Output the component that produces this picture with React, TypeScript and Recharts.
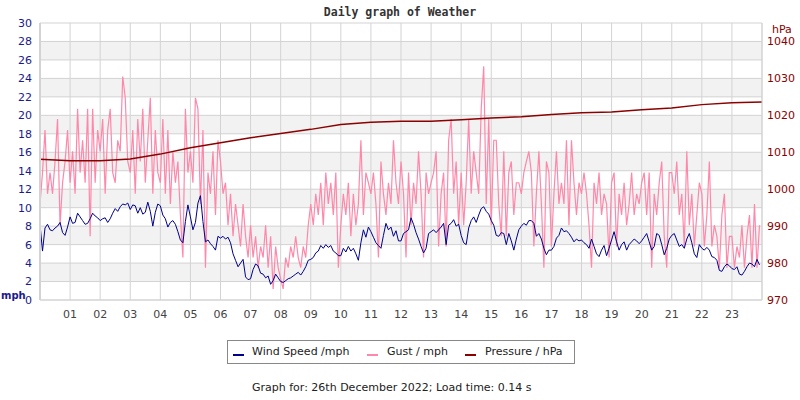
import { ComposedChart, Line, XAxis, YAxis, CartesianGrid } from "recharts";

// Hour ticks along the bottom (00:00 and 24:00 are the plot edges)
const hourTicks = [1, 2, 3, 4, 5, 6, 7, 8, 9, 10, 11, 12, 13, 14, 15, 16, 17, 18, 19, 20, 21, 22, 23];
const mphTicks = [0, 2, 4, 6, 8, 10, 12, 14, 16, 18, 20, 22, 24, 26, 28, 30];
const hpaTicks = [970, 980, 990, 1000, 1010, 1020, 1030, 1040];

// 5-minute samples, one row per hour (mph)
const windSpeed = [
  8.2, 5.3, 7.8, 8.2, 7.6, 7.5, 7.8, 8.0, 8.4, 7.3, 7.0, 7.9,
  9.0, 8.3, 8.4, 9.4, 9.0, 8.6, 8.2, 8.3, 8.8, 9.4, 9.1, 8.9,
  8.6, 8.8, 8.9, 8.4, 8.8, 9.4, 9.9, 9.6, 10.1, 10.4, 10.3, 10.5,
  9.8, 10.3, 10.2, 9.4, 10.0, 9.3, 9.5, 10.6, 9.6, 8.0, 9.5, 10.4,
  10.2, 9.2, 8.8, 7.9, 8.4, 8.6, 8.2, 7.4, 6.5, 6.2, 8.5, 10.3,
  9.0, 7.6, 8.4, 10.5, 11.3, 8.5, 6.3, 6.5, 6.1, 5.8, 5.4, 6.9,
  6.7, 6.9, 6.6, 6.8, 6.2, 5.0, 4.3, 3.6, 4.0, 4.4, 2.5, 2.2,
  2.3, 3.3, 3.9, 3.7, 2.9, 2.8, 2.4, 2.6, 1.7, 2.1, 2.8, 2.4,
  2.0, 1.9, 2.1, 2.3, 2.4, 2.6, 2.8, 3.0, 2.7, 3.1, 3.6, 4.3,
  4.4, 4.6, 5.1, 5.3, 5.9, 5.6, 6.0, 5.7, 5.9, 5.3, 5.1, 4.8,
  4.8, 5.6, 5.2, 5.8, 5.3, 5.6, 5.0, 4.3, 6.2, 7.6, 6.8, 7.9,
  7.4, 6.8, 6.2, 5.9, 5.6, 7.0, 8.3, 7.6, 7.9, 6.9, 7.5, 6.4,
  6.4, 7.2, 7.4, 7.6, 8.9, 8.2, 7.3, 6.6, 5.8, 5.1, 5.6, 7.2,
  7.4, 7.6, 7.3, 7.6, 7.9, 8.3, 6.0, 8.1, 8.3, 8.7, 8.0, 8.2,
  7.0, 6.2, 6.0, 7.8, 8.6, 9.0, 8.4, 9.2, 9.9, 10.1, 9.6, 9.3,
  8.6, 8.1, 7.0, 6.9, 7.3, 7.2, 6.0, 7.2, 6.4, 5.4, 6.6, 7.6,
  8.0, 8.3, 8.1, 8.6, 8.6, 8.3, 6.9, 7.2, 6.6, 5.6, 4.9, 5.4,
  5.4, 5.8, 6.7, 7.0, 7.8, 7.4, 7.5, 7.2, 6.8, 6.3, 6.6, 6.4,
  6.5, 6.2, 6.0, 5.6, 6.6, 5.8, 5.0, 4.7, 5.4, 5.9, 4.8, 5.6,
  6.5, 7.4, 6.3, 5.4, 6.0, 6.3, 5.4, 6.0, 6.3, 6.6, 6.4, 6.1,
  6.4, 6.8, 7.2, 6.3, 5.4, 5.8, 7.2, 7.0, 6.0, 4.9, 5.6, 6.6,
  7.0, 7.2, 6.5, 5.8, 6.0, 5.6, 6.6, 7.2, 6.2, 5.0, 4.6, 6.0,
  5.6, 5.4, 5.7, 5.4, 4.7, 4.6, 4.3, 3.2, 3.1, 3.6, 3.9, 3.7,
  3.4, 3.3, 3.6, 2.8, 2.7, 3.1, 3.6, 4.0, 3.9, 3.6, 4.4, 3.8,
];

const gust = [
  10.4, 13.8, 18.4, 11.5, 13.8, 11.5, 15.0, 19.6, 8.1, 12.7, 15.0, 18.4,
  12.7, 16.1, 11.5, 20.7, 13.8, 17.3, 12.7, 20.7, 6.9, 20.7, 12.7, 18.4,
  16.1, 19.6, 11.5, 18.4, 20.7, 13.8, 12.7, 17.3, 16.1, 24.2, 21.9, 15.0,
  13.8, 18.4, 11.5, 19.6, 15.0, 20.7, 12.7, 17.3, 21.9, 11.5, 18.4, 13.8,
  12.7, 19.6, 11.5, 18.4, 10.4, 16.1, 12.7, 15.0, 9.2, 4.6, 20.7, 13.8,
  16.1, 12.7, 21.9, 20.7, 10.4, 18.4, 3.5, 13.8, 11.5, 16.1, 9.2, 17.3,
  15.0, 11.5, 12.7, 8.1, 11.5, 6.9, 10.4, 8.1, 5.8, 10.4, 6.9, 4.6,
  8.1, 4.6, 6.9, 3.5, 5.8, 4.6, 8.1, 3.5, 6.9, 1.2, 5.8, 3.5,
  2.3, 1.2, 4.6, 3.5, 5.8, 4.6, 6.9, 4.6, 3.5, 5.8, 4.6, 8.1,
  10.4, 8.1, 11.5, 9.2, 12.7, 8.1, 13.8, 10.4, 12.7, 9.2, 13.8, 3.5,
  8.1, 11.5, 9.2, 12.7, 6.9, 11.5, 8.1, 10.4, 17.3, 9.2, 13.8, 12.7,
  11.5, 13.8, 10.4, 4.6, 15.0, 11.5, 9.2, 12.7, 10.4, 17.3, 12.7, 10.4,
  15.0, 11.5, 4.6, 13.8, 8.1, 12.7, 10.4, 16.1, 11.5, 4.6, 13.8, 11.5,
  12.7, 13.8, 16.1, 5.8, 11.5, 13.8, 5.8, 17.3, 19.6, 11.5, 15.0, 8.1,
  13.8, 8.1, 12.7, 19.6, 11.5, 16.1, 13.8, 11.5, 20.7, 25.3, 10.4, 19.6,
  8.1, 17.3, 17.3, 10.4, 6.9, 16.1, 6.9, 13.8, 15.0, 9.2, 12.7, 12.7,
  11.5, 13.8, 15.0, 16.1, 13.8, 5.8, 11.5, 16.1, 10.4, 3.5, 15.0, 13.8,
  5.8, 11.5, 16.1, 10.4, 12.7, 10.4, 17.3, 8.1, 17.3, 12.7, 9.2, 12.7,
  11.5, 13.8, 11.5, 8.1, 3.5, 12.7, 10.4, 13.8, 9.2, 11.5, 10.4, 4.6,
  12.7, 13.8, 5.8, 11.5, 9.2, 12.7, 8.1, 10.4, 13.8, 9.2, 11.5, 10.4,
  12.7, 13.8, 9.2, 13.8, 3.5, 11.5, 9.2, 12.7, 15.0, 6.9, 3.5, 13.8,
  13.8, 11.5, 15.0, 9.2, 11.5, 5.8, 16.1, 8.1, 11.5, 5.8, 9.2, 12.7,
  11.5, 5.8, 9.2, 15.0, 5.8, 8.1, 6.9, 3.5, 9.2, 11.5, 3.5, 6.9,
  6.9, 3.5, 5.8, 4.6, 8.1, 3.5, 6.9, 9.2, 3.5, 10.4, 3.5, 8.1,
];

// Hourly pressure, 00:00 .. 24:00 (hPa)
const pressure = [
  1008.1, 1007.7, 1007.7, 1008.2, 1009.5, 1011.2, 1012.6, 1013.9, 1015.1, 1016.2,
  1017.5, 1018.1, 1018.4, 1018.4, 1018.8, 1019.3, 1019.6, 1020.2, 1020.7, 1020.9,
  1021.5, 1022.0, 1022.9, 1023.4, 1023.6,
];

const WIND = "#00008b";
const GUST = "#ff88aa";
const PRESS = "#8b0000";
const GRID = "#d3d3d3";

const rows: any[] = windSpeed.map((w, i) => ({
  t: i / 12,
  wind: w,
  gust: gust[i],
  pressure: i % 12 === 0 ? pressure[i / 12] : undefined,
}));
rows.push({ t: 24, pressure: pressure[24] });

const pad = (v: number) => String(v).padStart(2, "0");

const legendItems = [
  { label: "Wind Speed /mph", color: WIND, swatch: 5, text: 24 },
  { label: "Gust / mph", color: GUST, swatch: 139, text: 159 },
  { label: "Pressure / hPa", color: PRESS, swatch: 237, text: 257 },
];

export default function App() {
  return (
    <div
      style={{
        position: "absolute",
        left: 0,
        top: 0,
        width: 800,
        height: 400,
        background: "#fff",
        fontFamily: "'DejaVu Sans', sans-serif",
      }}
    >
      <div
        style={{
          position: "absolute",
          top: 5,
          left: 0,
          width: 800,
          textAlign: "center",
          fontFamily: "'DejaVu Sans Mono', monospace",
          fontWeight: "bold",
          fontSize: 11.5,
          color: "#333",
        }}
      >
        Daily graph of Weather
      </div>

      <ComposedChart width={800} height={400} data={rows} margin={{ top: 23, right: 0, bottom: 0, left: 0 }}>
        <CartesianGrid
          yAxisId="mph"
          stroke={GRID}
          horizontalFill={["#ffffff", "#f2f2f2"]}
          fillOpacity={1}
        />
        <XAxis
          dataKey="t"
          type="number"
          domain={[0, 24]}
          ticks={hourTicks}
          interval={0}
          tickFormatter={pad}
          height={100}
          tickLine={false}
          tickSize={8}
          tick={{ fontSize: 11, fill: "#444" }}
          axisLine={{ stroke: GRID }}
        />
        <YAxis
          yAxisId="mph"
          domain={[0, 30]}
          ticks={mphTicks}
          interval={0}
          width={40}
          tickLine={false}
          tickSize={6}
          tick={{ fontSize: 11, fill: "#1a1a8c" }}
          axisLine={{ stroke: GRID, strokeWidth: 2 }}
        />
        <YAxis
          yAxisId="hpa"
          orientation="right"
          domain={[970, 1045]}
          ticks={hpaTicks}
          interval={0}
          width={38}
          tickLine={false}
          tickSize={3}
          tick={{ fontSize: 11, fill: PRESS }}
          axisLine={{ stroke: GRID }}
        />
        <Line
          yAxisId="mph"
          dataKey="gust"
          stroke={GUST}
          strokeWidth={1.2}
          dot={false}
          isAnimationActive={false}
        />
        <Line yAxisId="mph" dataKey="wind" stroke={WIND} strokeWidth={1} dot={false} isAnimationActive={false} />
        <Line
          yAxisId="hpa"
          dataKey="pressure"
          stroke={PRESS}
          strokeWidth={1.5}
          dot={false}
          connectNulls
          isAnimationActive={false}
        />
      </ComposedChart>

      <div style={{ position: "absolute", left: 1, top: 290, fontSize: 10, fontWeight: "bold", color: "#1a1a8c" }}>mph</div>
      <div style={{ position: "absolute", left: 772, top: 23, fontSize: 11, color: PRESS }}>hPa</div>

      <div
        style={{
          position: "absolute",
          left: 227,
          top: 340,
          width: 346,
          height: 22,
          border: "1px solid #888",
          fontSize: 11,
          color: "#222",
        }}
      >
        {legendItems.map((it) => (
          <div key={it.label}>
            <div style={{ position: "absolute", left: it.swatch, top: 13, width: 11, height: 2, background: it.color }} />
            <div style={{ position: "absolute", left: it.text, top: 4, whiteSpace: "nowrap" }}>{it.label}</div>
          </div>
        ))}
      </div>

      <div style={{ position: "absolute", left: 252, top: 381, fontSize: 11, color: "#222", whiteSpace: "nowrap" }}>
        Graph for: 26th December 2022; Load time: 0.14 s
      </div>
    </div>
  );
}
